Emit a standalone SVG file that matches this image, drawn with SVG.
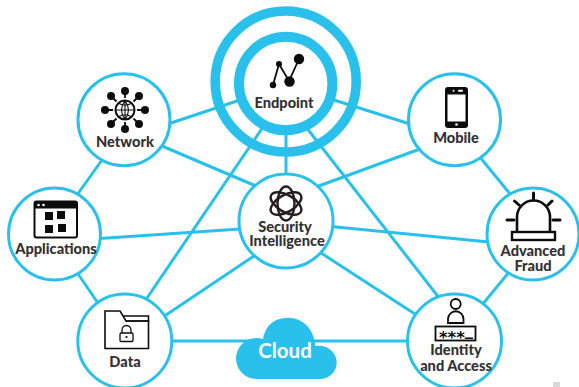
<svg xmlns="http://www.w3.org/2000/svg" width="579" height="387" viewBox="0 0 579 387">
<style>
.ln{stroke:#29c1ec;stroke-width:3;fill:none}
.c{fill:#fff;stroke:#29c1ec;stroke-width:3}
.t{font-family:"Lato","Open Sans",sans-serif;font-weight:900;font-size:14.6px;fill:#333134;text-anchor:middle}
.k{fill:#0c0c0c}
</style>
<rect width="579" height="387" fill="#fff"/>
<rect x="553" y="382" width="7" height="5" fill="#d9d9d9"/>
<g id="connectors" class="ln">
<path d="M168 124L240 100M334 100L410 124M162 146L256 186M316 187L420 149M100 238.500L240 229M331 226.500L489 242M163 317L254 256M318 251L418 316M145 301L263 127M306 127L440 299M286 130V175M102 160L77 195M479 156L511 195M510 271L482 305M74 268L100 306M170 341H410"/>
</g>
<g id="endpoint">
<circle cx="285.700" cy="81.500" r="70.500" fill="none" stroke="#29c1ec" stroke-width="9.600"/>
<circle cx="285.700" cy="83.500" r="46.700" fill="#fff" stroke="#29c1ec" stroke-width="10"/>
<path d="M273 85L279 64L289 81L299 59" fill="none" stroke="#0c0c0c" stroke-width="1.800"/>
<circle cx="273" cy="85" r="3.200" class="k"/><circle cx="279" cy="64" r="3" class="k"/><circle cx="289.500" cy="81.500" r="5.200" class="k"/><circle cx="299" cy="59" r="5.200" class="k"/>
<text class="t" x="284" y="108">Endpoint</text>
</g>
<g id="security">
<circle class="c" cx="286" cy="221" r="47"/>
<g fill="none" stroke="#231f20" stroke-width="2.400">
<ellipse cx="286" cy="203.500" rx="8.500" ry="17"/>
<ellipse cx="286" cy="203.500" rx="8.500" ry="17" transform="rotate(60 286 203.500)"/>
<ellipse cx="286" cy="203.500" rx="8.500" ry="17" transform="rotate(-60 286 203.500)"/>
</g>
<text class="t" x="285" y="232">Security</text>
<text class="t" x="287" y="246">Intelligence</text>
</g>
<g id="network">
<circle class="c" cx="124" cy="119.700" r="46"/>
<circle cx="125" cy="110" r="9.500" fill="#fff" stroke="#0c0c0c" stroke-width="2"/>
<path d="M125 100.500V119.500M115.500 110H134.500M119 103.500Q125 107 131 103.500M119 116.500Q125 113 131 116.500M125 100.500Q118 110 125 119.500M125 100.500Q132 110 125 119.500" fill="none" stroke="#0c0c0c" stroke-width="1.100"/>
<g stroke="#0c0c0c" stroke-width="1.800">
<path d="M125 98V93M125 122V127M113 110H108M137 110H142M116.500 101.500L113 98M133.500 101.500L137 98M116.500 118.500L113 122M133.500 118.500L137 122"/>
</g>
<g class="k">
<circle cx="125" cy="91" r="4"/><circle cx="125" cy="129" r="4"/><circle cx="105" cy="110" r="4"/><circle cx="145" cy="110" r="4"/>
<circle cx="111" cy="96" r="4"/><circle cx="139" cy="96" r="4"/><circle cx="111" cy="124" r="4"/><circle cx="139" cy="124" r="4"/>
</g>
<text class="t" x="125" y="147">Network</text>
</g>
<g id="applications">
<circle class="c" cx="54.500" cy="234" r="46"/>
<rect x="34.500" y="201.500" width="42.500" height="36" rx="2" fill="#fff" stroke="#0c0c0c" stroke-width="2"/>
<rect x="34.500" y="201.500" width="42.500" height="7" class="k"/>
<circle cx="38.500" cy="205" r="1.300" fill="#fff"/><circle cx="43.500" cy="205" r="1.300" fill="#fff"/>
<g class="k"><rect x="45" y="212" width="8" height="8"/><rect x="57" y="211" width="8" height="8"/><rect x="45" y="225" width="8" height="8"/><rect x="58" y="224" width="8" height="8"/></g>
<text class="t" x="56" y="254">Applications</text>
</g>
<g id="data">
<circle class="c" cx="124.800" cy="341" r="47"/>
<path d="M105 311H120L126 321H148.500V348.500H105Z" fill="#fff" stroke="#0c0c0c" stroke-width="1.600"/>
<path d="M126 321H148.500V316H123" fill="none" stroke="#0c0c0c" stroke-width="1.600"/>
<rect x="120" y="333" width="13" height="8.500" rx="1.200" fill="none" stroke="#0c0c0c" stroke-width="1.300"/>
<path d="M122 333V330A4.500 4.500 0 0 1 131 330V333" fill="none" stroke="#0c0c0c" stroke-width="1.300"/>
<circle cx="126.500" cy="337" r="1.100" class="k"/>
<text class="t" x="125" y="367">Data</text>
</g>
<g id="mobile">
<circle class="c" cx="454.500" cy="119.700" r="46"/>
<rect x="445" y="87" width="23" height="41" rx="3" class="k"/>
<rect x="447.500" y="94.500" width="18" height="27" fill="#fff"/>
<circle cx="453.500" cy="90.700" r="1" fill="#fff"/><rect x="458" y="89.700" width="5" height="2" rx="1" fill="#fff"/><circle cx="456.500" cy="124.500" r="1.300" fill="#fff"/>
<text class="t" x="456" y="143">Mobile</text>
</g>
<g id="advanced">
<circle class="c" cx="533" cy="234" r="46"/>
<path d="M517 231V217A16.500 16.500 0 0 1 550 217V231" fill="none" stroke="#0c0c0c" stroke-width="2.600"/>
<rect x="512" y="232" width="43" height="8" fill="#fff" stroke="#0c0c0c" stroke-width="2.400"/>
<path d="M533.500 193V199M514.500 201L519 205M552 201L548 205M507 220H514M553 220H560" stroke="#0c0c0c" stroke-width="3" stroke-linecap="round" fill="none"/>
<text class="t" x="533" y="256">Advanced</text>
<text class="t" x="533" y="271">Fraud</text>
</g>
<g id="identity">
<circle class="c" cx="454.500" cy="341" r="47"/>
<circle cx="455.700" cy="304" r="5" fill="#fff" stroke="#0c0c0c" stroke-width="1.800"/>
<path d="M448 323V319A7.700 7.700 0 0 1 463.500 319V323Z" fill="#fff" stroke="#0c0c0c" stroke-width="1.800"/>
<rect x="435.500" y="326.500" width="40" height="14" fill="#fff" stroke="#0c0c0c" stroke-width="1.800"/>
<text x="456" y="343" font-family="'DejaVu Sans',sans-serif" font-weight="700" font-size="16.500px" fill="#0c0c0c" text-anchor="middle">***<tspan dy="-8">_</tspan></text>
<text class="t" x="456" y="355">Identity</text>
<text class="t" x="456" y="371">and Access</text>
</g>
<g id="cloud">
<path d="M256.500 379A20.500 20.500 0 0 1 256.500 338Q260 338 263 339C265 326 274 317.700 288 317.700C303 317.700 314 329 315.500 346C328 344.500 336.700 353 336.700 362.500C336.700 372 329 379 320 379Z" fill="#29c1ec"/>
<text x="285" y="358" font-family="Lato,'Open Sans',sans-serif" font-weight="700" font-size="20.500px" fill="#fff" text-anchor="middle">Cloud</text>
</g>
</svg>
